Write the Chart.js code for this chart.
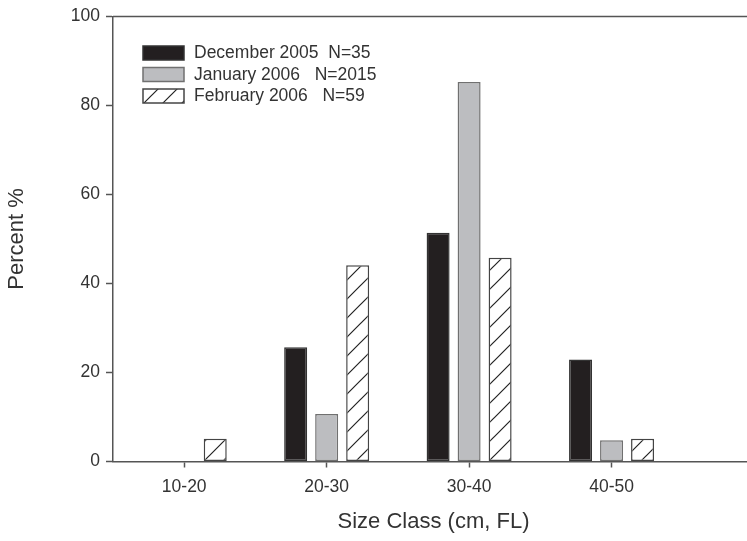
<!DOCTYPE html>
<html><head><meta charset="utf-8">
<script src="https://cdn.jsdelivr.net/npm/chart.js@4/dist/chart.umd.min.js"></script>
<style>
html,body{margin:0;padding:0;background:#fff;overflow:hidden;width:747px;height:541px}
#wrap{width:760px;height:541px}
</style></head>
<body><div id="wrap"><canvas id="c" width="760" height="541"></canvas></div>
<script>
// ---- data ----
const sizeClasses = ['10-20', '20-30', '30-40', '40-50'];
const classMidpoints = [15, 25, 35, 45];
const dec2005 = [0, 25.7, 51.4, 22.9];
const jan2006 = [0, 10.7, 85.3, 4.8];
const feb2006 = [5.1, 44.1, 45.8, 5.1];
const seriesLabels = ['December 2005  N=35', 'January 2006   N=2015', 'February 2006   N=59'];
const yTicks = [0, 20, 40, 60, 80, 100];

const FONT = "'Liberation Sans', Arial, Helvetica, sans-serif";
const TXT = '#333';
const AX = '#555';

function hatchPattern() {
  const s = 19;
  const c = document.createElement('canvas');
  c.width = s; c.height = s;
  const g = c.getContext('2d');
  g.fillStyle = '#fff'; g.fillRect(0, 0, s, s);
  g.strokeStyle = '#222'; g.lineWidth = 1.2;
  g.beginPath();
  g.moveTo(-2, s + 2); g.lineTo(s + 2, -2);
  g.moveTo(-2, 2); g.lineTo(2, -2);
  g.moveTo(s - 2, s + 2); g.lineTo(s + 2, s - 2);
  g.stroke();
  return g.createPattern(c, 'repeat');
}
const hatch = hatchPattern();

const toPts = arr => arr.map((v, i) => ({x: classMidpoints[i], y: v}));
const bw = w => ctx => (ctx.raw && ctx.raw.y === 0) ? 0 : w;

const styles = [
  {bg: '#231f20', border: '#333'},
  {bg: '#bcbdc0', border: '#707070'},
  {bg: hatch, border: '#444'}
];
const series = [dec2005, jan2006, feb2006];

const framePlugin = {
  id: 'frame',
  afterDraw(chart) {
    const {ctx, chartArea: a} = chart;
    ctx.save();
    ctx.strokeStyle = AX; ctx.lineWidth = 1.5;
    ctx.beginPath();
    ctx.moveTo(a.left, a.top); ctx.lineTo(a.right, a.top);
    ctx.stroke();
    // legend inside plot
    const lg = {x: 143, y: 46, w: 41, h: 14, gap: 21.5, tx: 194};
    ctx.font = '17.5px ' + FONT;
    ctx.textBaseline = 'middle';
    ctx.textAlign = 'left';
    chart.data.datasets.forEach((ds, i) => {
      const y = lg.y + i * lg.gap;
      ctx.fillStyle = ds.backgroundColor;
      ctx.fillRect(lg.x, y, lg.w, lg.h);
      ctx.strokeStyle = ds.borderColor; ctx.lineWidth = 1.5;
      ctx.strokeRect(lg.x, y, lg.w, lg.h);
      ctx.fillStyle = TXT;
      ctx.fillText(ds.label, lg.tx, y + lg.h / 2 + 0.5);
    });
    ctx.restore();
  }
};

new Chart(document.getElementById('c'), {
  type: 'bar',
  data: {
    datasets: series.map((s, i) => ({
      label: seriesLabels[i],
      data: toPts(s),
      backgroundColor: styles[i].bg,
      borderColor: styles[i].border,
      borderWidth: bw(1.5),
      borderSkipped: false,
      categoryPercentage: 0.653,
      barPercentage: 0.742
    }))
  },
  options: {
    responsive: false,
    animation: false,
    events: [],
    layout: {padding: {top: 13, right: 6, left: 0, bottom: 0}},
    plugins: {legend: {display: false}, tooltip: {enabled: false}},
    scales: {
      x: {
        type: 'linear',
        min: 10, max: 55,
        offset: false,
        afterBuildTicks: sc => { sc.ticks = classMidpoints.map(v => ({value: v})); },
        afterFit: sc => { sc.height = 79.5; },
        grid: {display: true, offset: false, drawOnChartArea: false, drawTicks: true, tickLength: 6, tickColor: AX, tickWidth: 1.5},
        border: {display: true, color: AX, width: 1.5},
        ticks: {
          autoSkip: false, maxRotation: 0, padding: 9,
          color: TXT, font: {family: FONT, size: 17.5},
          callback: v => sizeClasses[classMidpoints.indexOf(v)] ?? ''
        },
        title: {display: true, text: 'Size Class (cm, FL)', color: TXT,
          font: {family: FONT, size: 22}, padding: {top: 0, bottom: 6}}
      },
      y: {
        min: 0, max: 100,
        afterBuildTicks: sc => { sc.ticks = yTicks.map(v => ({value: v})); },
        afterFit: sc => { sc.width = 113; },
        grid: {display: true, drawOnChartArea: false, drawTicks: true, tickLength: 7, tickColor: AX, tickWidth: 1.5},
        border: {display: true, color: AX, width: 1.5},
        ticks: {padding: 6, color: TXT, font: {family: FONT, size: 17.5}},
        title: {display: true, text: 'Percent %', color: TXT,
          font: {family: FONT, size: 22}, padding: {top: 4, bottom: 0}}
      }
    }
  },
  plugins: [framePlugin]
});
</script>
</body></html>
